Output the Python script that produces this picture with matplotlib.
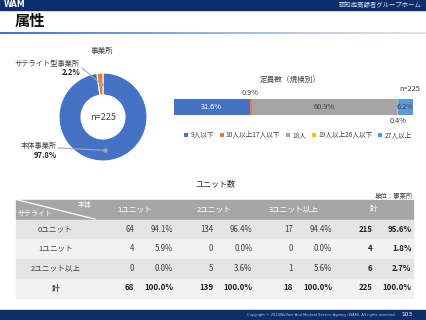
import numpy as np
import matplotlib
matplotlib.use("Agg")
import matplotlib.pyplot as plt
from matplotlib.patches import Rectangle

plt.rcParams['font.family'] = ['Noto Sans CJK JP', 'DejaVu Sans']

# --- data ---
pie_labels = ['本体事業所', 'サテライト型事業所']
pie_values = [97.8, 2.2]
pie_colors = ['#4472C4', '#ED7D31']
pie_n = 'n=225'

cap_labels = ['9人以下', '10人以上17人以下', '18人', '19人以上26人以下', '27人以上']
cap_values = [31.6, 0.9, 60.9, 0.4, 6.2]
cap_colors = ['#4472C4', '#ED7D31', '#A5A5A5', '#FFC000', '#5B9BD5']

tbl_cols = ['1ユニット', '2ユニット', '3ユニット以上', '計']
tbl_rows = ['0ユニット', '1ユニット', '2ユニット以上', '計']
tbl_counts = [[64, 134, 17, 215],
              [4, 0, 0, 4],
              [0, 5, 1, 6],
              [68, 139, 18, 225]]
tbl_pcts = [[94.1, 96.4, 94.4, 95.6],
            [5.9, 0.0, 0.0, 1.8],
            [0.0, 3.6, 5.6, 2.7],
            [100.0, 100.0, 100.0, 100.0]]

W, H = 427, 320
NAVY = '#0E2D6B'
TXT = '#404040'

fig = plt.figure(figsize=(W / 100, H / 100), dpi=100)
bg = fig.add_axes([0, 0, 1, 1])
bg.set_xlim(0, W)
bg.set_ylim(H, 0)
bg.axis('off')

# header / footer
bg.add_patch(Rectangle((0, 0), W, 9.5, color=NAVY))
bg.text(4, 4.8, 'WAM', color='white', fontsize=5.5, fontweight='bold', va='center', family='DejaVu Sans')
bg.text(422, 5, '認知症高齢者グループホーム', color='#D8DEE9', fontsize=4.6, ha='right', va='center')
bg.text(14.5, 21, '属性', fontsize=11, fontweight='bold', va='center', color='#111111')
grad = np.linspace(0, 1, 256)[None, :]
cmap = matplotlib.colors.LinearSegmentedColormap.from_list('g', ['#4472C4', '#9FB4DA', '#E6E6E6'])
bg.imshow(grad, cmap=cmap, extent=(0, W, 34.2, 32.6), aspect='auto', zorder=1)
bg.add_patch(Rectangle((0, 310), W, 10, color=NAVY))
bg.text(396, 315.2, 'Copyright © 2024Welfare And Medical Service Agency (WAM). All rights reserved.',
        color='#B8C4DA', fontsize=2.6, ha='right', va='center', family='DejaVu Sans')
bg.text(413, 315, '103', color='white', fontsize=4.2, ha='right', va='center', family='DejaVu Sans')

# --- donut ---
cx, cy, R = 103, 117, 44
ax_pie = fig.add_axes([(cx - R) / W, 1 - (cy + R) / H, 2 * R / W, 2 * R / H])
wedges, _ = ax_pie.pie(pie_values, colors=pie_colors, startangle=90, counterclock=False,
                       radius=1, wedgeprops=dict(width=0.5, edgecolor='white', linewidth=0.8))
ax_pie.set_xlim(-1, 1)
ax_pie.set_ylim(-1, 1)
ax_pie.text(0, 0, pie_n, ha='center', va='center', fontsize=6.5, color=TXT)
bg.text(102, 51, '事業所', ha='center', va='center', fontsize=5.5, color=TXT)

label_pos = [((57, 146), (57, 155), (58, 148)), ((80, 64), (80, 72.7), (82, 68))]
for w, lab, val, (p1, p2, pl) in zip(wedges, pie_labels, pie_values, label_pos):
    mid = np.deg2rad((w.theta1 + w.theta2) / 2)
    xy = (0.76 * np.cos(mid), 0.76 * np.sin(mid))
    ax_pie.annotate('', xy=xy, xycoords='data', xytext=pl, textcoords=bg.transData,
                    arrowprops=dict(arrowstyle='-', color='#A6A6A6', lw=0.8, shrinkA=0, shrinkB=0))
    ax_pie.plot(*xy, 'o', color='#A6A6A6', ms=2.2)
    bg.text(p1[0], p1[1], lab, ha='right', va='center', fontsize=5.2, color=TXT)
    bg.text(p2[0], p2[1], f'{val:.1f}%', ha='right', va='center', fontsize=5.5,
            fontweight='bold', color='#222222')

# --- stacked bar ---
x0, x1, y0, y1 = 174, 413, 99, 115
ax_bar = fig.add_axes([x0 / W, 1 - y1 / H, (x1 - x0) / W, (y1 - y0) / H])
left = 0
mids = []
for v, c, lab in zip(cap_values, cap_colors, cap_labels):
    ax_bar.barh(0, v, left=left, color=c, height=1, label=lab)
    mids.append(left + v / 2)
    left += v
ax_bar.set_xlim(0, 100)
ax_bar.set_ylim(-0.5, 0.5)
ax_bar.axis('off')
for i, (v, m) in enumerate(zip(cap_values, mids)):
    if i == 0:
        ax_bar.text(m, 0, f'{v:.1f}%', ha='center', va='center', fontsize=5.3, color='white')
    elif i in (2, 4):
        ax_bar.text(m, 0, f'{v:.1f}%', ha='center', va='center', fontsize=5.3, color=TXT)
    elif i == 1:
        ax_bar.text(m, 0.62, f'{v:.1f}%', ha='center', va='bottom', fontsize=5.3, color=TXT)
    else:
        ax_bar.text(m, -0.62, f'{v:.1f}%', ha='center', va='top', fontsize=5.3, color=TXT)
ax_bar.text(98.5, 0.9, pie_n, ha='center', va='bottom', fontsize=5.3, color=TXT)
bg.text(290, 80, '定員数（規模別）', ha='center', va='center', fontsize=5.5, color=TXT)
ax_bar.legend(loc='center', bbox_to_anchor=(298 / W, 1 - 135 / H), bbox_transform=fig.transFigure,
              ncol=5, frameon=False, fontsize=4.8, handlelength=0.6, handleheight=0.6,
              handletextpad=0.3, columnspacing=0.9, labelcolor=TXT)

# --- table ---
bg.text(215, 184, 'ユニット数', ha='center', va='center', fontsize=5.8, color='#222222')
bg.text(413, 196, '単位：事業所', ha='right', va='center', fontsize=4.6, color=TXT)
tx0, c0w, gw, rh = 16, 79, 79.5, 19.6
ty0 = 199.5
split = 42
HDR = '#A6A6A6'
row_bg = ['#E4E4E4', '#F2F2F2', '#E4E4E4', '#F2F2F2']
# header
bg.add_patch(Rectangle((tx0, ty0), c0w, rh, color=HDR))
bg.plot([tx0, tx0 + c0w], [ty0, ty0 + rh], color='white', lw=0.9)
bg.text(tx0 + c0w - 3, ty0 + 5, '本体', ha='right', va='center', fontsize=5, color='white')
bg.text(tx0 + 2, ty0 + 14.5, 'サテライト', ha='left', va='center', fontsize=5, color='white')
for j, col in enumerate(tbl_cols):
    gx = tx0 + c0w + j * gw
    bg.add_patch(Rectangle((gx + 0.6, ty0), gw - 0.6, rh, color=HDR))
    bg.text(gx + gw / 2, ty0 + rh / 2, col, ha='center', va='center', fontsize=5.5, color='white')
# body
for i, rname in enumerate(tbl_rows):
    ry = ty0 + (i + 1) * rh + 0.6
    bold = 'bold' if i == len(tbl_rows) - 1 else 'normal'
    bg.add_patch(Rectangle((tx0, ry), c0w, rh - 0.6, color=row_bg[i]))
    bg.text(tx0 + c0w / 2, ry + rh / 2 - 0.3, rname, ha='center', va='center', fontsize=5.5,
            color=TXT, fontweight=bold)
    for j in range(len(tbl_cols)):
        gx = tx0 + c0w + j * gw
        bg.add_patch(Rectangle((gx + 0.6, ry), split - 0.6, rh - 0.6, color=row_bg[i]))
        bg.add_patch(Rectangle((gx + split + 0.4, ry), gw - split - 0.4, rh - 0.6, color=row_bg[i]))
        b = 'bold' if (bold == 'bold' or j == len(tbl_cols) - 1) else 'normal'
        tc = '#222222' if b == 'bold' else TXT
        bg.text(gx + split - 3, ry + rh / 2 - 0.3, f'{tbl_counts[i][j]}', ha='right', va='center',
                fontsize=5.7, color=tc, fontweight=b)
        bg.text(gx + gw - 1.5, ry + rh / 2 - 0.3, f'{tbl_pcts[i][j]:.1f}%', ha='right', va='center',
                fontsize=5.7, color=tc, fontweight=b)

fig.savefig('out.png', dpi=100)
